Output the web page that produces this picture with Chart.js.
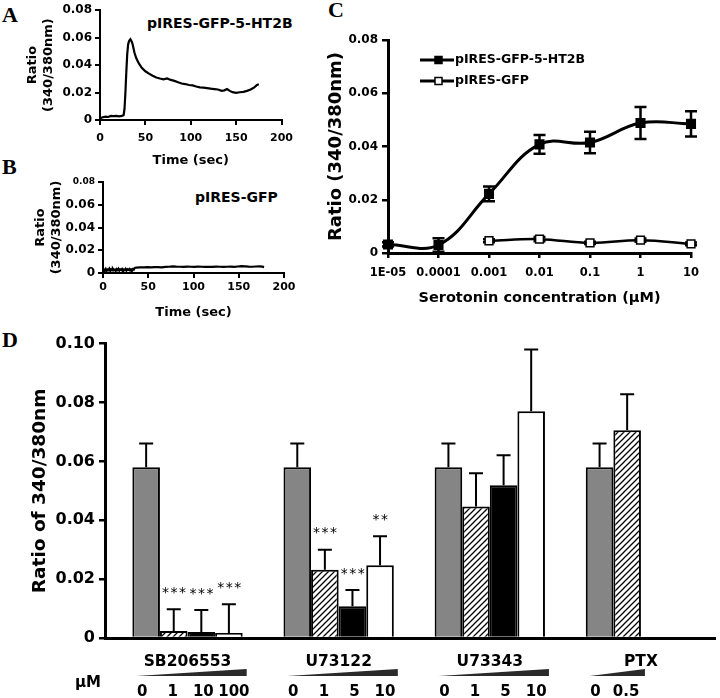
<!DOCTYPE html>
<html lang="en">
<head>
<meta charset="UTF-8">
<title>5-HT2B calcium responses</title>
<script src="https://cdn.jsdelivr.net/npm/chart.js@4.4.0/dist/chart.umd.js"></script>
<style>
  body { margin: 0; background: #fff; width: 720px; height: 698px; position: relative; overflow: hidden; font-family: 'DejaVu Sans', sans-serif; }
  canvas { position: absolute; }
  .panel { position: absolute; font-family: 'Liberation Serif', serif; font-weight: bold; font-size: 22px; line-height: 22px; }
  .note { position: absolute; font-weight: bold; font-size: 14px; line-height: 14px; white-space: nowrap; }
</style>
</head>
<body>
<div class="panel" style="left:2px;top:4px">A</div>
<div class="panel" style="left:2px;top:156px">B</div>
<div class="panel" style="left:328px;top:-1px">C</div>
<div class="panel" style="left:2px;top:329px">D</div>
<div class="note" style="left:147px;top:16px">pIRES-GFP-5-HT2B</div>
<div class="note" style="left:195px;top:190px">pIRES-GFP</div>

<canvas id="chartA" width="300" height="172" style="left:0;top:0"></canvas>
<canvas id="chartB" width="300" height="165" style="left:0;top:165px"></canvas>
<canvas id="chartC" width="420" height="320" style="left:300px;top:0"></canvas>
<canvas id="chartD" width="720" height="368" style="left:0;top:330px"></canvas>

<script>
// ---- data ----
// A / B: ratio traces, [time (sec), ratio]
const traceA = [[0,0.0012],[3,0.002],[6,0.0025],[9,0.0022],[12,0.003],[15,0.0028],[18,0.003],[21,0.0027],
  [24,0.003],[26,0.0035],[27,0.008],[28,0.02],[29,0.035],[30,0.048],[31,0.055],[32,0.0575],[33.5,0.0588],
  [35,0.057],[36,0.055],[38,0.049],[40,0.045],[43,0.041],[46,0.038],[50,0.0355],[54,0.0338],[58,0.0322],
  [62,0.031],[66,0.0302],[70,0.0296],[74,0.0303],[78,0.0292],[82,0.0285],[86,0.0275],[90,0.0266],
  [94,0.0262],[98,0.0255],[102,0.0252],[106,0.0244],[110,0.0238],[114,0.0236],[118,0.0232],[122,0.0228],
  [126,0.0225],[130,0.0222],[134,0.0212],[137,0.0216],[140,0.0225],[143,0.0212],[146,0.0203],[150,0.0198],
  [154,0.0202],[158,0.0205],[162,0.0212],[166,0.0222],[170,0.0238],[173,0.0255],[175,0.026]];
const traceB = [[0,0.0015],[1,0.003],[2,0.002],[3,0.0035],[4,0.0018],[5,0.003],[6,0.0025],[7,0.0038],
  [8,0.002],[9,0.0032],[10,0.0022],[11,0.0036],[12,0.0024],[13,0.003],[14,0.0019],[15,0.0034],[16,0.0026],
  [17,0.0038],[18,0.0021],[19,0.0033],[20,0.0027],[21,0.0036],[22,0.002],[23,0.0031],[24,0.0025],[25,0.0037],
  [26,0.0022],[27,0.0033],[28,0.0028],[29,0.0036],[30,0.0023],[31,0.0032],[32,0.0026],[33,0.0035],[34,0.003],
  [35,0.0045],[37,0.0048],[41,0.005],[45,0.0049],[49,0.0051],[53,0.005],[57,0.0052],[61,0.0051],[65,0.005],
  [69,0.0053],[73,0.0055],[77,0.0058],[81,0.0056],[85,0.0055],[89,0.0054],[93,0.0056],[97,0.0055],[101,0.0054],
  [105,0.0056],[109,0.0055],[113,0.0053],[117,0.0055],[121,0.0054],[125,0.0056],[129,0.0055],[133,0.0054],
  [137,0.0055],[141,0.0056],[145,0.0054],[149,0.0057],[153,0.006],[157,0.0058],[161,0.0056],[165,0.0055],
  [169,0.0057],[173,0.0058],[176,0.0056],[178,0.0052]];

// C: dose response
const concLabels = ['1E-05', '0.0001', '0.001', '0.01', '0.1', '1', '10'];
const ht2bMean = [0.0032, 0.003, 0.0222, 0.0408, 0.0415, 0.0488, 0.0485];
const ht2bErr  = [0.0008, 0.0025, 0.0028, 0.0035, 0.004, 0.006, 0.0047];
const gfpMean  = [null, null, 0.0046, 0.0052, 0.0038, 0.0048, 0.0034];
const gfpErr   = [null, null, 0.0006, 0.0008, 0.0004, 0.0006, 0.0005];

// D: inhibitor bars, one array per dose position within a group
const groupNames = ['SB206553', 'U73122', 'U73343', 'PTX'];
const doseLabels = [['0', '1', '10', '100'], ['0', '1', '5', '10'], ['0', '1', '5', '10'], ['0', '0.5']];
const dose0 = [0.058, 0.058, 0.058, 0.058];
const dose1 = [0.0024, 0.0232, 0.0447, 0.0706];
const dose2 = [0.002, 0.0108, 0.0519, null];
const dose3 = [0.0017, 0.0247, 0.077, null];
const err0 = [0.0081, 0.0081, 0.0081, 0.0081];
const err1 = [0.0074, 0.0068, 0.0113, 0.0122];
const err2 = [0.0075, 0.0055, 0.0102, null];
const err3 = [0.0098, 0.0099, 0.021, null];
const stars1 = ['***', '***', '', ''];
const stars2 = ['***', '***', '', ''];
const stars3 = ['***', '**', '', ''];

// ---- common look ----
Chart.defaults.animation = false;
Chart.defaults.color = '#000';
Chart.defaults.font.family = "'DejaVu Sans', sans-serif";
Chart.defaults.font.weight = 'bold';
Chart.defaults.plugins.legend.display = false;
Chart.defaults.plugins.tooltip.enabled = false;

function toXY(trace) {
  return trace.map(p => ({ x: p[0], y: p[1] }));
}

function timeTraceChart(id, trace, box) {
  return new Chart(document.getElementById(id), {
    type: 'line',
    data: { datasets: [{ data: toXY(trace), borderColor: '#000', borderWidth: 2.2, pointRadius: 0, tension: 0 }] },
    options: {
      responsive: false,
      layout: { autoPadding: false, padding: { left: 0, top: box.top, right: box.right, bottom: 0 } },
      scales: {
        x: {
          type: 'linear', min: 0, max: 200,
          afterFit: s => { s.height = box.xh; },
          ticks: { stepSize: 50, font: { size: 11 }, padding: box.xpad },
          grid: { drawOnChartArea: false, tickLength: 5, color: '#000', lineWidth: 2 },
          border: { color: '#000', width: 2 },
          title: { display: true, text: 'Time (sec)', font: { size: 13 }, padding: { top: 0, bottom: box.tpad } }
        },
        y: {
          min: 0, max: 0.08,
          afterFit: s => { s.width = box.yw; },
          ticks: { stepSize: 0.02, padding: 3, font: c => ({ size: (box.smallTop && c.tick && c.tick.value > 0.079) ? 9 : 12 }) },
          grid: { drawOnChartArea: false, tickLength: 5, color: '#000', lineWidth: 2 },
          border: { color: '#000', width: 2 },
          title: { display: true, text: ['Ratio', '(340/380nm)'], font: { size: 13 }, padding: { top: box.ypad, bottom: 0 } }
        }
      }
    }
  });
}

timeTraceChart('chartA', traceA, { top: 10, right: 17, xh: 52, xpad: 7, tpad: 4, yw: 100, ypad: 25 });
timeTraceChart('chartB', traceB, { top: 17, right: 16, xh: 57, xpad: 3, tpad: 10, yw: 103, ypad: 33, smallTop: true });

// ---- C ----
const doseErrorBars = {
  id: 'doseErrorBars',
  beforeDatasetsDraw(chart) {
    const ctx = chart.ctx;
    const y = chart.scales.y;
    ctx.save();
    ctx.strokeStyle = '#000';
    ctx.lineWidth = 2.5;
    chart.data.datasets.forEach((ds, di) => {
      chart.getDatasetMeta(di).data.forEach((pt, i) => {
        const v = ds.data[i], e = ds.errors[i];
        if (v == null || e == null) return;
        const hi = y.getPixelForValue(v + e), lo = y.getPixelForValue(v - e);
        ctx.beginPath();
        ctx.moveTo(pt.x, lo); ctx.lineTo(pt.x, hi);
        ctx.moveTo(pt.x - 6, hi); ctx.lineTo(pt.x + 6, hi);
        ctx.moveTo(pt.x - 6, lo); ctx.lineTo(pt.x + 6, lo);
        ctx.stroke();
      });
    });
    ctx.restore();
  },
  afterDraw(chart) {
    // legend, top left of the plot
    const ctx = chart.ctx;
    ctx.save();
    chart.data.datasets.forEach((ds, i) => {
      const yy = 60 + i * 21;
      ctx.strokeStyle = '#000';
      ctx.lineWidth = 3;
      ctx.beginPath(); ctx.moveTo(120, yy); ctx.lineTo(154, yy); ctx.stroke();
      ctx.fillStyle = ds.pointBackgroundColor;
      ctx.fillRect(135, yy - 3.5, 7, 7);
      ctx.lineWidth = 1.5;
      ctx.strokeRect(135, yy - 3.5, 7, 7);
      ctx.fillStyle = '#000';
      ctx.font = "bold 12.5px 'DejaVu Sans'";
      ctx.textBaseline = 'middle';
      ctx.fillText(ds.label, 155, yy);
    });
    ctx.restore();
  }
};

new Chart(document.getElementById('chartC'), {
  type: 'line',
  data: {
    labels: concLabels,
    datasets: [
      { label: 'pIRES-GFP-5-HT2B', data: ht2bMean, errors: ht2bErr, borderColor: '#000', borderWidth: 3, tension: 0.4,
        pointStyle: 'rect', pointRadius: 5, pointBackgroundColor: '#000', pointBorderColor: '#000', clip: false },
      { label: 'pIRES-GFP', data: gfpMean, errors: gfpErr, borderColor: '#000', borderWidth: 2.5, tension: 0.4,
        pointStyle: 'rect', pointRadius: 5.5, pointBackgroundColor: '#fff', pointBorderColor: '#000', pointBorderWidth: 1.5, clip: false }
    ]
  },
  options: {
    responsive: false,
    layout: { autoPadding: false, padding: { left: 0, top: 40, right: 29, bottom: 0 } },
    scales: {
      x: {
        offset: false,
        afterFit: s => { s.height = 67; },
        ticks: { font: { size: 11.5 }, padding: 8, autoSkip: false, maxRotation: 0 },
        grid: { drawOnChartArea: false, tickLength: 5, color: '#000', lineWidth: 2.5 },
        border: { color: '#000', width: 3 },
        title: { display: true, text: 'Serotonin concentration (µM)', font: { size: 14.5 }, padding: { top: 0, bottom: 13 } }
      },
      y: {
        min: 0, max: 0.08,
        afterFit: s => { s.width = 88; },
        ticks: { stepSize: 0.02, font: { size: 12 }, padding: 4 },
        grid: { drawOnChartArea: false, tickLength: 6, color: '#000', lineWidth: 2.5 },
        border: { color: '#000', width: 3 },
        title: { display: true, text: 'Ratio (340/380nm)', font: { size: 18 }, padding: { top: 26, bottom: 0 } }
      }
    }
  },
  plugins: [doseErrorBars]
});

// ---- D ----
function hatchPattern() {
  const c = document.createElement('canvas');
  c.width = 6; c.height = 6;
  const g = c.getContext('2d');
  g.fillStyle = '#fff';
  g.fillRect(0, 0, 6, 6);
  g.strokeStyle = '#000';
  g.lineWidth = 1.3;
  g.beginPath();
  g.moveTo(-1, 7); g.lineTo(7, -1);
  g.moveTo(-1, 1); g.lineTo(1, -1);
  g.moveTo(5, 7); g.lineTo(7, 5);
  g.stroke();
  return g.createPattern(c, 'repeat');
}

const barExtras = {
  id: 'barExtras',
  afterDatasetsDraw(chart) {
    const ctx = chart.ctx;
    const y = chart.scales.y;
    ctx.save();
    chart.data.datasets.forEach((ds, di) => {
      chart.getDatasetMeta(di).data.forEach((bar, gi) => {
        const v = ds.data[gi].y, e = ds.errors[gi];
        if (v == null || e == null) return;
        const top = y.getPixelForValue(v + e), base = y.getPixelForValue(v);
        ctx.strokeStyle = '#000';
        ctx.lineWidth = 2;
        ctx.beginPath();
        ctx.moveTo(bar.x, base); ctx.lineTo(bar.x, top);
        ctx.moveTo(bar.x - 7, top); ctx.lineTo(bar.x + 7, top);
        ctx.stroke();
        const s = ds.stars && ds.stars[gi];
        if (s) {
          ctx.fillStyle = '#000';
          ctx.font = "14px 'DejaVu Sans'";
          ctx.letterSpacing = '1.5px';
          ctx.textAlign = 'center';
          ctx.textBaseline = 'middle';
          ctx.fillText(s, bar.x + 1, top - 16);
          ctx.letterSpacing = '0px';
        }
      });
    });
    ctx.restore();
  },
  afterDraw(chart) {
    const ctx = chart.ctx;
    const bottom = chart.chartArea.bottom;
    ctx.save();
    ctx.fillStyle = '#000';
    ctx.textAlign = 'center';
    ctx.textBaseline = 'middle';
    ctx.font = "bold 15px 'DejaVu Sans'";
    ctx.fillText('µM', 88, bottom + 45);
    doseLabels.forEach((doses, gi) => {
      const first = chart.getDatasetMeta(0).data[gi];
      const last = chart.getDatasetMeta(doses.length - 1).data[gi];
      const x0 = first.x - first.width / 2 + 4, x1 = last.x + last.width / 2 + 4;
      const wy = bottom + 38;
      ctx.fillStyle = '#2a2a2a';
      ctx.beginPath();
      ctx.moveTo(x0, wy); ctx.lineTo(x1, wy - 7); ctx.lineTo(x1, wy); ctx.closePath();
      ctx.fill();
      ctx.fillStyle = '#000';
      doses.forEach((d, di) => {
        const bar = chart.getDatasetMeta(di).data[gi];
        // labels sit a little wider apart than the bars
        ctx.fillText(d, bar.x - 4 + di * 3, bottom + 54);
      });
    });
    ctx.restore();
  }
};

function barSet(values, errors, fill, stars) {
  return {
    data: values.map((v, i) => ({ x: i, y: v })),
    errors: errors, stars: stars,
    backgroundColor: fill, borderColor: '#000', borderWidth: 2,
    categoryPercentage: 0.73, barPercentage: 1
  };
}

new Chart(document.getElementById('chartD'), {
  type: 'bar',
  data: {
    datasets: [
      barSet(dose0, err0, '#858585', null),
      barSet(dose1, err1, hatchPattern(), stars1),
      barSet(dose2, err2, '#000', stars2),
      barSet(dose3, err3, '#fff', stars3)
    ]
  },
  options: {
    responsive: false,
    layout: { autoPadding: false, padding: { left: 0, top: 13, right: 5, bottom: 0 } },
    scales: {
      x: {
        type: 'linear', min: -0.546, max: 3.49, offset: false,
        afterFit: s => { s.height = 60; },
        ticks: { stepSize: 1, includeBounds: false, font: { size: 15.5 }, padding: 15,
                 callback: v => groupNames[v] || '' },
        grid: { offset: false, drawOnChartArea: false, drawTicks: false, color: '#000' },
        border: { color: '#000', width: 3 }
      },
      y: {
        min: 0, max: 0.1,
        afterFit: s => { s.width = 105; },
        ticks: { stepSize: 0.02, font: { size: 16 }, padding: 4 },
        grid: { drawOnChartArea: false, tickLength: 6, color: '#000', lineWidth: 2.5 },
        border: { color: '#000', width: 3 },
        title: { display: true, text: 'Ratio of 340/380nm', font: { size: 18.5 }, padding: { top: 29, bottom: 0 } }
      }
    }
  },
  plugins: [barExtras]
});
</script>
</body>
</html>
